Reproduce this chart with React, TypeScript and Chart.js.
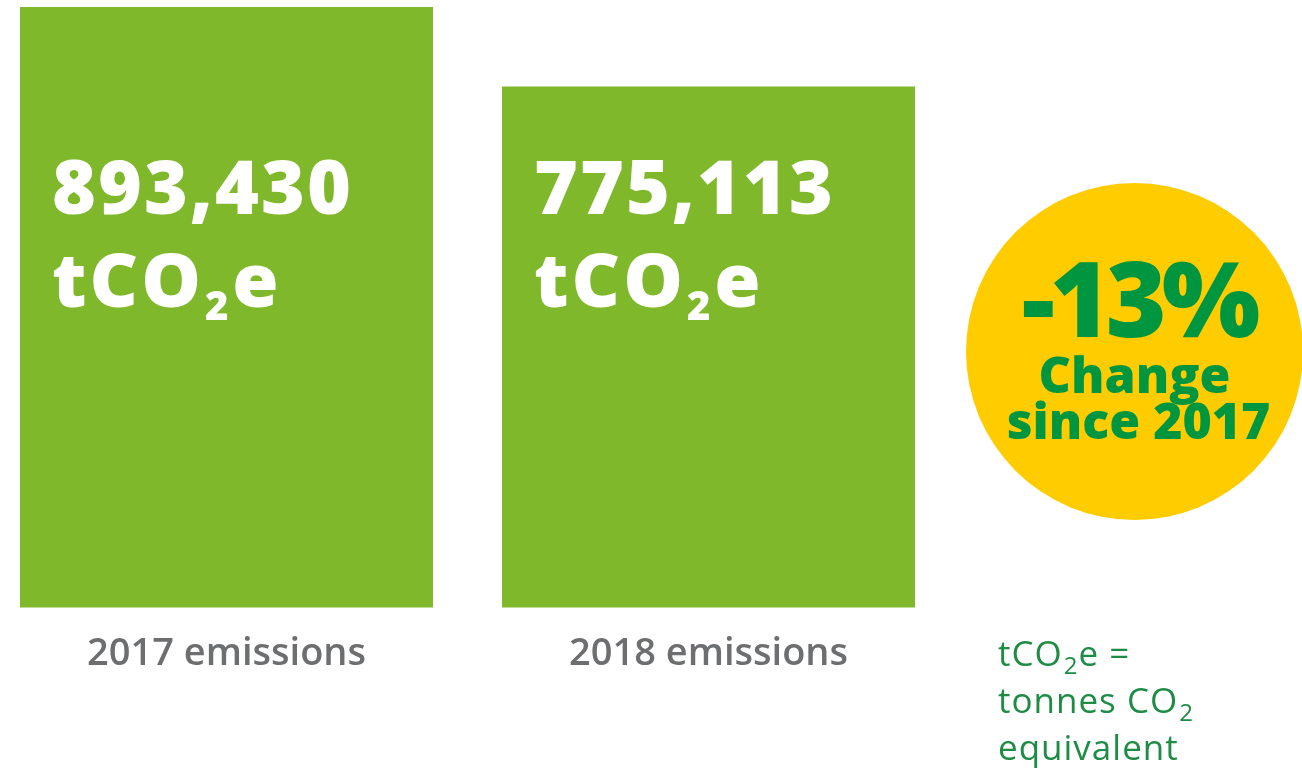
import React, { useEffect, useRef } from 'react';
import { Chart, registerables } from 'chart.js';

Chart.register(...registerables);

// ---- data ----
const categories: string[] = ['2017 emissions', '2018 emissions'];
const emissions: number[] = [893430, 775113];
const unitParts: string[] = ['tCO', '2', 'e'];
const changeSubtitle: string[] = ['Change', 'since 2017'];
const footnoteLines: string[][] = [
  ['tCO', '2', 'e ='],
  ['tonnes CO', '2', ''],
  ['equivalent', '', ''],
];

// ---- styles ----
const BAR_GREEN = '#7fb92b';
const YELLOW = '#ffcc00';
const DARK_GREEN = '#009640';
const NOTE_GREEN = '#1f8c46';
const GRAY = '#6d6e70';
const FONT = '"Open Sans", "Noto Sans", sans-serif';

type Seg = { text: string; font: string; dy: number; ls: number; gapBefore?: number };

function drawSegs(ctx: CanvasRenderingContext2D, segs: Seg[], x: number, y: number, align: 'left' | 'center' = 'left') {
  let total = 0;
  for (const s of segs) {
    ctx.font = s.font;
    (ctx as any).letterSpacing = s.ls + 'px';
    total += (s.gapBefore || 0) + ctx.measureText(s.text).width;
  }
  let cx = align === 'center' ? x - total / 2 : x;
  ctx.textAlign = 'left';
  ctx.textBaseline = 'alphabetic';
  for (const s of segs) {
    ctx.font = s.font;
    (ctx as any).letterSpacing = s.ls + 'px';
    cx += s.gapBefore || 0;
    ctx.fillText(s.text, cx, y + s.dy);
    cx += ctx.measureText(s.text).width;
  }
}

const overlayPlugin = {
  id: 'overlay',
  afterDatasetsDraw(chart: any) {
    const ctx: CanvasRenderingContext2D = chart.ctx;
    const top = chart.chartArea.top;
    const meta = chart.getDatasetMeta(0);
    meta.data.forEach((bar: any, i: number) => {
      const { x, width } = bar.getProps(['x', 'width'], true);
      const left = x - width / 2 + 32;
      ctx.save();
      ctx.fillStyle = '#ffffff';
      const big = `800 75px ${FONT}`;
      const sub = `800 40px ${FONT}`;
      drawSegs(ctx, [{ text: emissions[i].toLocaleString('en-US'), font: big, dy: 0, ls: 2 }], left, top + 207);
      drawSegs(
        ctx,
        [
          { text: unitParts[0], font: big, dy: 0, ls: 3 },
          { text: unitParts[1], font: sub, dy: 13, ls: 0, gapBefore: 1 },
          { text: unitParts[2], font: big, dy: 0, ls: 3, gapBefore: 4 },
        ],
        left,
        top + 300
      );
      ctx.restore();
    });
  },
  afterDraw(chart: any) {
    const ctx: CanvasRenderingContext2D = chart.ctx;
    ctx.save();
    const cx = 1134.5;
    const cy = 351.5;
    const r = 168.5;
    ctx.beginPath();
    ctx.arc(cx, cy, r, 0, Math.PI * 2);
    ctx.fillStyle = YELLOW;
    ctx.fill();
    const pct = Math.round(((emissions[1] - emissions[0]) / emissions[0]) * 100);
    ctx.fillStyle = DARK_GREEN;
    drawSegs(ctx, [{ text: `${pct}%`, font: `800 104px ${FONT}`, dy: 0, ls: -5 }], cx + 4, 337, 'center');
    drawSegs(ctx, [{ text: changeSubtitle[0], font: `800 50px ${FONT}`, dy: 0, ls: 0 }], cx, 393, 'center');
    drawSegs(ctx, [{ text: changeSubtitle[1], font: `800 50px ${FONT}`, dy: 0, ls: 0 }], cx + 4, 439, 'center');

    ctx.fillStyle = NOTE_GREEN;
    const nf = `400 35px ${FONT}`;
    const sf = `400 24px ${FONT}`;
    const baselines = [666, 713, 760];
    footnoteLines.forEach((ln, i) => {
      drawSegs(
        ctx,
        [
          { text: ln[0], font: nf, dy: 0, ls: 1 },
          { text: ln[1], font: sf, dy: 8, ls: 0, gapBefore: 1 },
          { text: ln[2], font: nf, dy: 0, ls: 1, gapBefore: 1 },
        ],
        998,
        baselines[i]
      );
    });
    ctx.restore();
  },
};

export default function App() {
  const ref = useRef<HTMLCanvasElement>(null);
  useEffect(() => {
    if (!ref.current) return;
    const chart = new Chart(ref.current, {
      type: 'bar',
      data: {
        labels: categories,
        datasets: [
          {
            data: emissions,
            backgroundColor: BAR_GREEN,
            borderWidth: 0,
            categoryPercentage: 1,
            barPercentage: 413 / 482,
            clip: false as any,
          },
        ],
      },
      options: {
        animation: false,
        responsive: false,
        maintainAspectRatio: false,
        layout: { padding: { left: 226.5, right: 593.5, top: 7, bottom: 72 } },
        plugins: { legend: { display: false }, tooltip: { enabled: false }, title: { display: false } },
        scales: {
          x: {
            type: 'category',
            offset: false,
            grid: { display: false, drawTicks: false },
            border: { display: false },
            ticks: {
              color: GRAY,
              padding: 24,
              font: { family: FONT, size: 38, weight: 600 as any },
              maxRotation: 0,
              autoSkip: false,
            },
          },
          y: {
            display: false,
            min: 0,
            max: Math.max(...emissions),
          },
        },
      },
      plugins: [overlayPlugin],
    });
    return () => chart.destroy();
  }, []);
  return (
    <div style={{ position: 'absolute', left: 0, top: 0, width: 1302, height: 773, background: '#ffffff' }}>
      <canvas ref={ref} width={1302} height={773} style={{ display: 'block' }} />
    </div>
  );
}
